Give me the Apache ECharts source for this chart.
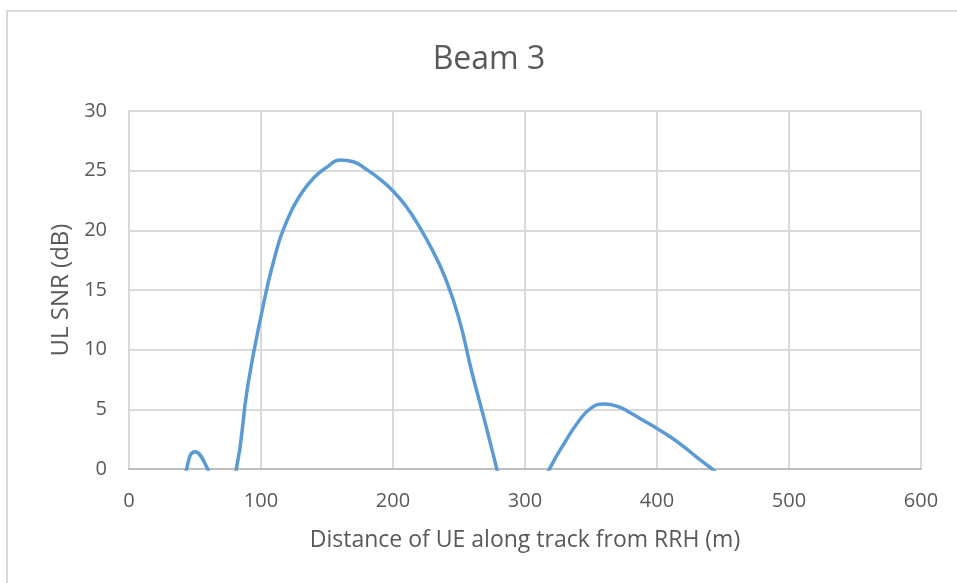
<!DOCTYPE html>
<html>
<head>
<meta charset="utf-8">
<title>Beam 3</title>
<script src="https://cdn.jsdelivr.net/npm/echarts@6/dist/echarts.min.js"></script>
<style>
  html, body { margin: 0; padding: 0; background: #ffffff; }
  #chart { width: 957px; height: 583px; }
</style>
</head>
<body>
<div id="chart"></div>
<script>
// Distance along the track (m), sampled every 10 m
const distances = [
  0, 10, 20, 30, 40, 50, 60, 70, 80, 90,
  100, 110, 120, 130, 140, 150, 160, 170, 180, 190,
  200, 210, 220, 230, 240, 250, 260, 270, 280, 290,
  300, 310, 320, 330, 340, 350, 360, 370, 380, 390,
  400, 410, 420, 430, 440, 450, 460, 470, 480, 490,
  500, 510, 520, 530, 540, 550, 560, 570, 580, 590, 600
];

// Uplink SNR (dB); negative values fall below the axis minimum and are clipped
const snrDb = [
  -6, -5, -4, -3, -1.2, 1.45, -0.1, -3, -0.7, 7.0,
  12.8, 17.6, 20.9, 23.0, 24.4, 25.3, 25.9, 25.75, 25.1, 24.3,
  23.3, 22.0, 20.3, 18.3, 15.9, 12.6, 8.0, 3.8, -0.6, -5,
  -7, -2, 0.3, 2.2, 3.9, 5.1, 5.45, 5.25, 4.7, 4.05,
  3.4, 2.7, 1.9, 1.0, 0.15, -0.8, -2, -3, -4, -5,
  -6, -7, -8, -9, -10, -11, -12, -13, -14, -15, -16
];

const xTicks = [0, 100, 200, 300, 400, 500, 600];
const yTicks = [0, 5, 10, 15, 20, 25, 30];

const textColor = '#595959';
const gridColor = '#D9D9D9';
const fontFamily = '"Open Sans", sans-serif';

const chart = echarts.init(document.getElementById('chart'), null, { renderer: 'canvas' });

chart.setOption({
  backgroundColor: '#ffffff',
  animation: false,
  title: {
    text: 'Beam 3',
    left: 484,
    top: 39,
    textAlign: 'center',
    textStyle: { color: textColor, fontFamily, fontSize: 32, fontWeight: 'normal' }
  },
  graphic: [
    {
      type: 'polyline',
      shape: { points: [[7, 583], [7, 11], [957, 11]] },
      style: { stroke: '#D9D9D9', lineWidth: 2, fill: null },
      silent: true
    }
  ],
  grid: { left: 129, right: 36, top: 111, bottom: 114, containLabel: false },
  xAxis: {
    type: 'value',
    min: xTicks[0],
    max: xTicks[xTicks.length - 1],
    interval: xTicks[1] - xTicks[0],
    name: 'Distance of UE along track from RRH (m)',
    nameLocation: 'middle',
    nameGap: 60,
    nameTextStyle: { color: textColor, fontFamily, fontSize: 23 },
    axisLine: { show: true, lineStyle: { color: '#BFBFBF', width: 2 } },
    axisTick: { show: false },
    axisLabel: { color: textColor, fontFamily, fontSize: 20, margin: 22 },
    splitLine: { show: true, lineStyle: { color: gridColor, width: 2 } }
  },
  yAxis: {
    type: 'value',
    min: yTicks[0],
    max: yTicks[yTicks.length - 1],
    interval: yTicks[1] - yTicks[0],
    name: 'UL SNR (dB)',
    nameLocation: 'middle',
    nameGap: 54,
    nameRotate: 90,
    nameTextStyle: { color: textColor, fontFamily, fontSize: 24 },
    axisLine: { show: true, lineStyle: { color: gridColor, width: 2 } },
    axisTick: { show: false },
    axisLabel: { color: textColor, fontFamily, fontSize: 20, margin: 22 },
    splitLine: { show: true, lineStyle: { color: gridColor, width: 2 } }
  },
  series: [
    {
      type: 'line',
      data: distances.map((d, i) => [d, snrDb[i]]),
      smooth: 0.5,
      clip: true,
      showSymbol: false,
      lineStyle: { color: '#5B9BD5', width: 3.5 },
      itemStyle: { color: '#5B9BD5' }
    }
  ]
});
</script>
</body>
</html>
